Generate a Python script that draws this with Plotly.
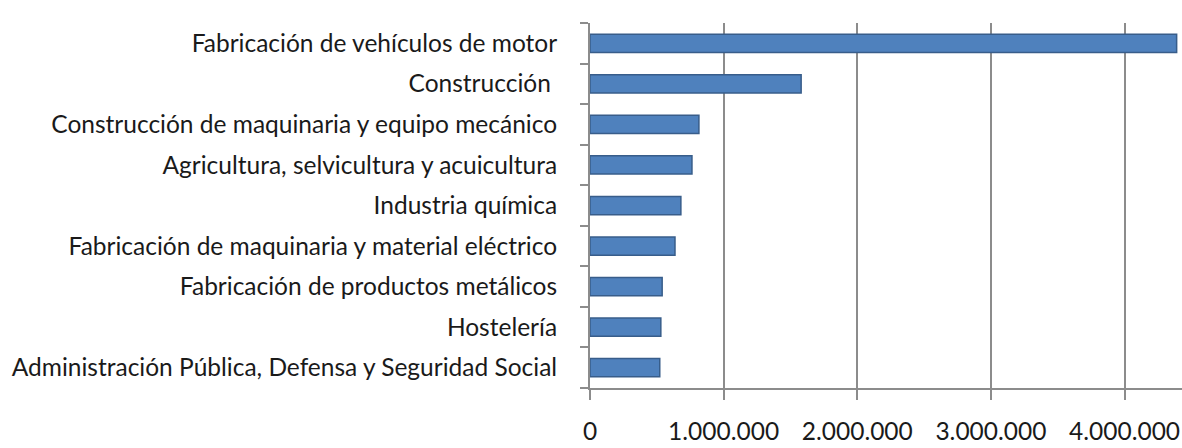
import plotly.graph_objects as go

categories = [
    "Fabricación de vehículos de motor",
    "Construcción ",
    "Construcción de maquinaria y equipo mecánico",
    "Agricultura, selvicultura y acuicultura",
    "Industria química",
    "Fabricación de maquinaria y material eléctrico",
    "Fabricación de productos metálicos",
    "Hostelería",
    "Administración Pública, Defensa y Seguridad Social",
]
values = [4390000, 1580000, 815000, 763000, 680000, 636000, 540000, 530000, 522000]
x_ticks = [0, 1000000, 2000000, 3000000, 4000000]

FONT = "Lato, 'Open Sans', sans-serif"

fig = go.Figure()
fig.add_trace(go.Bar(
    y=categories,
    x=values,
    orientation="h",
    width=0.45,
    marker=dict(color="#4f81bd", line=dict(color="#385d8a", width=1.5)),
    showlegend=False,
))

fig.update_layout(
    width=1182, height=448,
    margin=dict(l=590, r=0, t=23, b=60),
    paper_bgcolor="white", plot_bgcolor="white",
    separators=",.",
    font=dict(family=FONT, size=24.5, color="#1a1a1a"),
)
fig.update_xaxes(
    range=[0, 4430000],
    tickvals=x_ticks,
    tickformat=",d",
    automargin=False,
    showgrid=True, gridcolor="#8c8c8c", gridwidth=2,
    showline=True, linecolor="#8c8c8c", linewidth=2,
    ticks="outside", ticklen=10, tickcolor="#8c8c8c", tickwidth=2,
    ticklabelstandoff=11,
    zeroline=False,
)
fig.update_yaxes(
    categoryorder="array", categoryarray=categories[::-1],
    autorange=False, range=[-0.5, 8.5],
    automargin=False,
    showline=True, linecolor="#8c8c8c", linewidth=2,
    ticks="outside", tickson="boundaries", ticklen=8, tickcolor="#8c8c8c", tickwidth=2,
    ticklabelstandoff=26,
    showgrid=False,
)

fig.write_html(
    "out.html",
    config={"displayModeBar": False},
    post_script="document.body.style.margin='0';document.body.style.overflow='hidden';",
)
